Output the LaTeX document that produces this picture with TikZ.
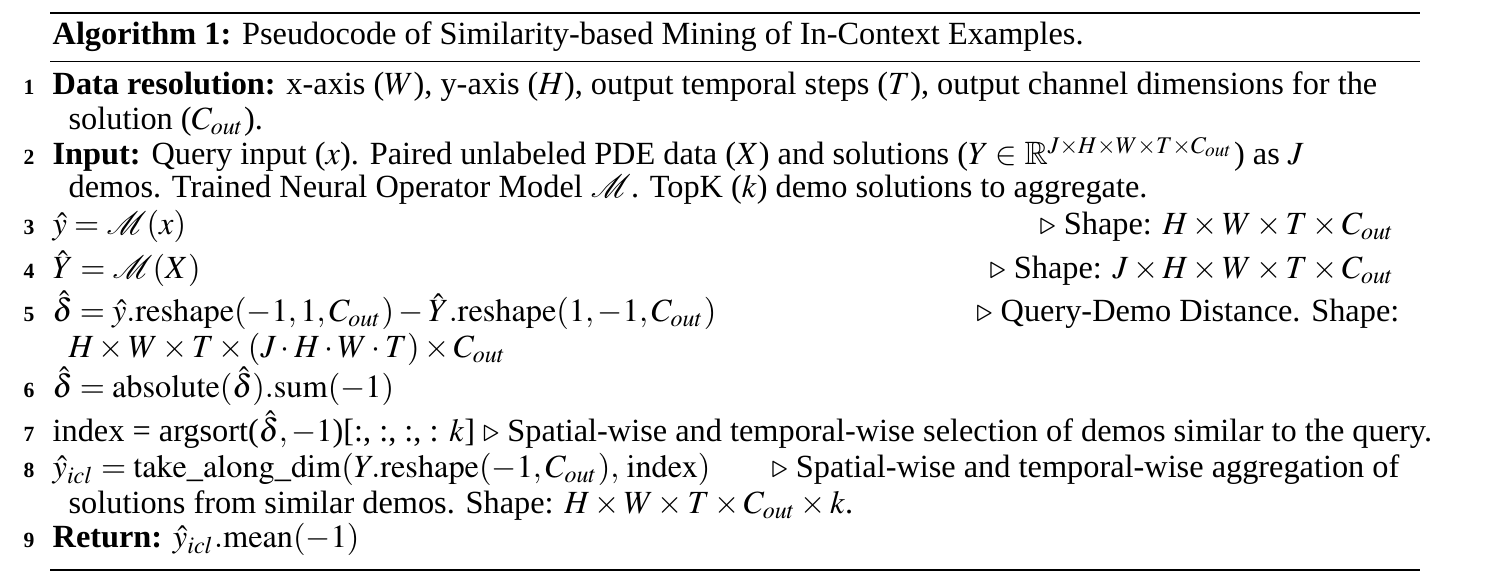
\documentclass[tikz,border=0pt]{standalone}
\usepackage{mathptmx}
\usepackage[no-math]{fontspec}
\setmainfont{Liberation Serif}
\usepackage{amssymb}
\begin{document}
\begin{tikzpicture}[x=0.3pt,y=-0.3pt,
  lnum/.style={anchor=base east,inner sep=0pt,font=\fontsize{6.5}{8}\selectfont\bfseries},
  txt/.style={anchor=base west,inner sep=0pt,font=\fontsize{9.7}{11}\selectfont},
  cmt/.style={anchor=base east,inner sep=0pt,font=\fontsize{9.7}{11}\selectfont}]
\useasboundingbox (0,0) rectangle (1486,588);
\draw[line width=0.6pt] (50,13) -- (1420,13);
\draw[line width=0.3pt] (50,62) -- (1420,62);
\draw[line width=0.6pt] (50,570) -- (1420,570);
\node[txt] (title) at (52,45) {\textbf{Algorithm 1:} Pseudocode of Similarity-based Mining of In-Context Examples.};
\node[lnum] (n1) at (35,95) {1};
\node[txt] (l1) at (52,95) {\textbf{Data resolution:} x-axis ($W$), y-axis ($H$), output temporal steps ($T$), output channel dimensions for the};
\node[txt] (l1b) at (68,130) {solution ($C_{out}$).};
\node[lnum] (n2) at (35,165) {2};
\node[txt] (l2) at (52,165) {\textbf{Input:} Query input ($x$). Paired unlabeled PDE data ($X$) and solutions ($Y\in\mathbb{R}^{J\times H\times W\times T\times C_{out}}$) as $J$};
\node[txt] (l2b) at (68,198) {demos. Trained Neural Operator Model $\mathcal{M}$. TopK ($k$) demo solutions to aggregate.};
\node[lnum] (n3) at (35,235) {3};
\node[txt] (l3) at (52,235) {$\hat{y}=\mathcal{M}(x)$};
\node[cmt] (c3) at (1395,235) {$\triangleright$ Shape: $H\times W\times T\times C_{out}$};
\node[lnum] (n4) at (35,279) {4};
\node[txt] (l4) at (52,279) {$\hat{Y}=\mathcal{M}(X)$};
\node[cmt] (c4) at (1395,279) {$\triangleright$ Shape: $J\times H\times W\times T\times C_{out}$};
\node[lnum] (n5) at (35,322) {5};
\node[txt] (l5) at (52,322) {$\hat{\delta}=\hat{y}.\mathrm{reshape}(-1,1,C_{out})-\hat{Y}.\mathrm{reshape}(1,-1,C_{out})$};
\node[cmt] (c5) at (1400,322) {$\triangleright$ Query-Demo Distance. Shape:};
\node[txt] (l5b) at (68,358) {$H\times W\times T\times(J\cdot H\cdot W\cdot T)\times C_{out}$};
\node[lnum] (n6) at (35,398) {6};
\node[txt] (l6) at (52,398) {$\hat{\delta}=\mathrm{absolute}(\hat{\delta}).\mathrm{sum}(-1)$};
\node[lnum] (n7) at (35,442) {7};
\node[txt] (l7) at (52,442) {index = argsort($\hat{\delta},-1$)[:, :, :, : $k$] $\triangleright$ Spatial-wise and temporal-wise selection of demos similar to the query.};
\node[lnum] (n8) at (35,478) {8};
\node[txt] (l8) at (52,478) {$\hat{y}_{icl}=\mathrm{take\_along\_dim}(Y.\mathrm{reshape}(-1,C_{out}),\,\mathrm{index})$};
\node[cmt] (c8) at (1400,478) {$\triangleright$ Spatial-wise and temporal-wise aggregation of};
\node[txt] (l8b) at (68,514) {solutions from similar demos. Shape: $H\times W\times T\times C_{out}\times k$.};
\node[lnum] (n9) at (35,548) {9};
\node[txt] (l9) at (52,548) {\textbf{Return:} $\hat{y}_{icl}.\mathrm{mean}(-1)$};
\end{tikzpicture}
\end{document}
